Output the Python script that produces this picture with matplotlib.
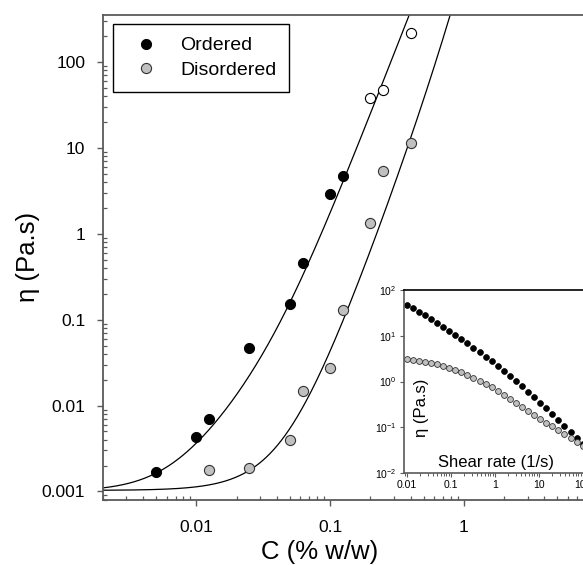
import numpy as np
import matplotlib
matplotlib.use("Agg")
import matplotlib.pyplot as plt
from matplotlib.ticker import FixedLocator, FixedFormatter, LogLocator, NullFormatter
from matplotlib.lines import Line2D

plt.rcParams['font.family'] = ['Liberation Sans', 'DejaVu Sans']
plt.rcParams['mathtext.fontset'] = 'custom'
plt.rcParams['mathtext.rm'] = 'Liberation Sans'
plt.rcParams['mathtext.it'] = 'Liberation Sans'

# ---------------- main data ----------------
c_ordered = [0.005, 0.01, 0.0125, 0.025, 0.05, 0.0625, 0.1, 0.125]
eta_ordered = [0.0017, 0.0043, 0.0069, 0.0467, 0.152, 0.455, 2.92, 4.72]

c_open = [0.2, 0.25, 0.4]
eta_open = [38.5, 47.2, 216]

c_disordered = [0.0125, 0.025, 0.05, 0.0625, 0.1, 0.125, 0.2, 0.25, 0.4]
eta_disordered = [0.00176, 0.00187, 0.0040, 0.0147, 0.0274, 0.131, 1.35, 5.45, 11.4]

# fitted-curve parameters: eta = eta_s + a*c^2 + b*c^m*exp(k*c)
fit_ordered = dict(eta_s=0.001, a=25.0, b=15000.0, m=4.0, k=0.0)
fit_disordered = dict(eta_s=0.00103, a=1.0, b=276.0, m=4.0, k=1.5)

# ---------------- inset data ----------------
shear_rate = [0.01, 0.01374, 0.01888, 0.02593, 0.03562, 0.04894, 0.06723, 0.09237,
              0.1269, 0.1743, 0.2395, 0.3290, 0.4520, 0.6210, 0.8532, 1.172,
              1.610, 2.212, 3.039, 4.175, 5.736, 7.880, 10.83, 14.87, 20.43,
              28.07, 38.57, 52.98, 72.79, 100.0]
eta_inset_ordered = [46.8, 39.6, 33.3, 27.8, 23.2, 19.2, 15.8, 12.9, 10.5, 8.55,
                     6.90, 5.53, 4.41, 3.50, 2.77, 2.17, 1.70, 1.32, 1.02, 0.785,
                     0.601, 0.457, 0.346, 0.261, 0.195, 0.146, 0.108, 0.0797, 0.0584, 0.0427]
eta_inset_disordered = [3.09, 2.98, 2.86, 2.72, 2.57, 2.40, 2.22, 2.02, 1.82, 1.62,
                        1.42, 1.22, 1.04, 0.883, 0.740, 0.616, 0.510, 0.421, 0.345, 0.283,
                        0.231, 0.189, 0.155, 0.127, 0.104, 0.0852, 0.0697, 0.0571, 0.0467, 0.0382]

y_ticks = [0.001, 0.01, 0.1, 1, 10, 100]
y_ticklabels = ['0.001', '0.01', '0.1', '1', '10', '100']
x_ticks = [0.01, 0.1, 1]
x_ticklabels = ['0.01', '0.1', '1']
inset_x_ticks = [0.01, 0.1, 1, 10, 100]
inset_x_ticklabels = ['0.01', '0.1', '1', '10', '100']
inset_y_ticks = [0.01, 0.1, 1, 10, 100]
inset_y_ticklabels = [r'$10^{-2}$', r'$10^{-1}$', r'$10^{0}$', r'$10^{1}$', r'$10^{2}$']

GREY = '#c0c0c0'
SPINE = '#5a5a5a'

W, H = 583, 565
fig = plt.figure(figsize=(W / 100, H / 100), dpi=100)
fig.patch.set_facecolor('white')

# main axes (right part extends beyond figure, as in the cropped original)
L, R, T, B = 102.7, 597.7, 15.0, 499.8
ax = fig.add_axes([L / W, 1 - B / H, (R - L) / W, (B - T) / H])
ax.set_xscale('log')
ax.set_yscale('log')
ax.set_xlim(0.002, 10)
ax.set_ylim(0.0008, 352)


def model(c, p):
    c = np.asarray(c)
    return p['eta_s'] + p['a'] * c ** 2 + p['b'] * c ** p['m'] * np.exp(p['k'] * c)


cc = np.logspace(np.log10(0.002), np.log10(1.0), 600)
ax.plot(cc, model(cc, fit_ordered), color='black', lw=0.9, zorder=2)
ax.plot(cc, model(cc, fit_disordered), color='black', lw=0.9, zorder=2)

ms = 7.3
ax.plot(c_ordered, eta_ordered, 'o', ms=ms, mfc='black', mec='black', mew=0.7, zorder=3)
ax.plot(c_open, eta_open, 'o', ms=ms, mfc='white', mec='black', mew=0.8, zorder=3)
ax.plot(c_disordered, eta_disordered, 'o', ms=ms, mfc=GREY, mec='#333333', mew=0.8, zorder=3)

for s in ['left', 'bottom', 'top']:
    ax.spines[s].set_color(SPINE)
    ax.spines[s].set_linewidth(1.3)
ax.spines['right'].set_visible(False)

ax.yaxis.set_major_locator(FixedLocator(y_ticks))
ax.yaxis.set_major_formatter(FixedFormatter(y_ticklabels))
ax.xaxis.set_major_locator(FixedLocator(x_ticks + [10]))
ax.xaxis.set_major_formatter(FixedFormatter(x_ticklabels + ['']))
ax.xaxis.set_minor_locator(LogLocator(base=10, subs=np.arange(2, 10), numticks=20))
ax.yaxis.set_minor_locator(LogLocator(base=10, subs=np.arange(2, 10), numticks=20))
ax.xaxis.set_minor_formatter(NullFormatter())
ax.yaxis.set_minor_formatter(NullFormatter())
ax.tick_params(which='major', direction='out', length=4.5, width=1.0, color=SPINE,
               labelsize=12.5, pad=8, top=False, right=False)
ax.tick_params(which='minor', direction='in', length=3.2, width=0.9, color=SPINE,
               top=False, right=False)
ax.tick_params(axis='x', which='major', length=4.5, pad=10)

ax.set_xlabel('C (% w/w)', fontsize=18.5)
ax.xaxis.label.set_va('center')
ax.xaxis.set_label_coords((319.5 - L) / (R - L), (B - 552) / (B - T))
ax.set_ylabel('η (Pa.s)', fontsize=18.5)
ax.yaxis.label.set_va('center')
ax.yaxis.set_label_coords((28 - L) / (R - L), 0.5)

handles = [Line2D([], [], ls='none', marker='o', ms=ms, mfc='black', mec='black', mew=0.7),
           Line2D([], [], ls='none', marker='o', ms=ms, mfc=GREY, mec='#333333', mew=0.8)]
leg = ax.legend(handles, ['Ordered', 'Disordered'], loc='upper left',
                bbox_to_anchor=((113 - L) / (R - L), (B - 24) / (B - T)),
                borderaxespad=0, fontsize=14, frameon=True, fancybox=False,
                framealpha=1, edgecolor='black', borderpad=0.66, labelspacing=0.35,
                handlelength=2.08, handletextpad=0.71)
leg.get_frame().set_linewidth(1.0)

# inset
iL, iR, iT, iB = 403.6, 595.9, 290.0, 473.0
axin = fig.add_axes([iL / W, 1 - iB / H, (iR - iL) / W, (iB - iT) / H])
axin.set_facecolor('white')
axin.set_xscale('log')
axin.set_yscale('log')
axin.set_xlim(0.0085, 200)
axin.set_ylim(0.01, 100)
axin.plot(shear_rate, eta_inset_ordered, 'o', ms=4.2, mfc='black', mec='black', mew=0.5)
axin.plot(shear_rate, eta_inset_disordered, 'o', ms=4.2, mfc=GREY, mec='#333333', mew=0.6)
for s in ['left', 'bottom']:
    axin.spines[s].set_color(SPINE)
    axin.spines[s].set_linewidth(1.2)
axin.spines['top'].set_color('black')
axin.spines['top'].set_linewidth(1.2)
axin.spines['right'].set_visible(False)
axin.xaxis.set_major_locator(FixedLocator(inset_x_ticks))
axin.xaxis.set_major_formatter(FixedFormatter(inset_x_ticklabels))
axin.yaxis.set_major_locator(FixedLocator(inset_y_ticks))
axin.yaxis.set_major_formatter(FixedFormatter(inset_y_ticklabels))
axin.xaxis.set_minor_locator(LogLocator(base=10, subs=np.arange(2, 10), numticks=20))
axin.xaxis.set_minor_formatter(NullFormatter())
axin.yaxis.set_minor_locator(FixedLocator([]))
axin.tick_params(which='major', direction='out', length=3, width=0.8, color=SPINE,
                 labelsize=7.5, pad=2, top=False, right=False)
axin.tick_params(which='minor', direction='out', length=2, width=0.7, color=SPINE,
                 top=False, right=False)
axin.text(0.48, 0.06, 'Shear rate (1/s)', transform=axin.transAxes, fontsize=12,
          ha='center', va='center')
axin.text(0.093, 0.355, 'η (Pa.s)', transform=axin.transAxes, fontsize=12,
          ha='center', va='center', rotation=90)

fig.savefig('out.png', dpi=100, facecolor='white')
